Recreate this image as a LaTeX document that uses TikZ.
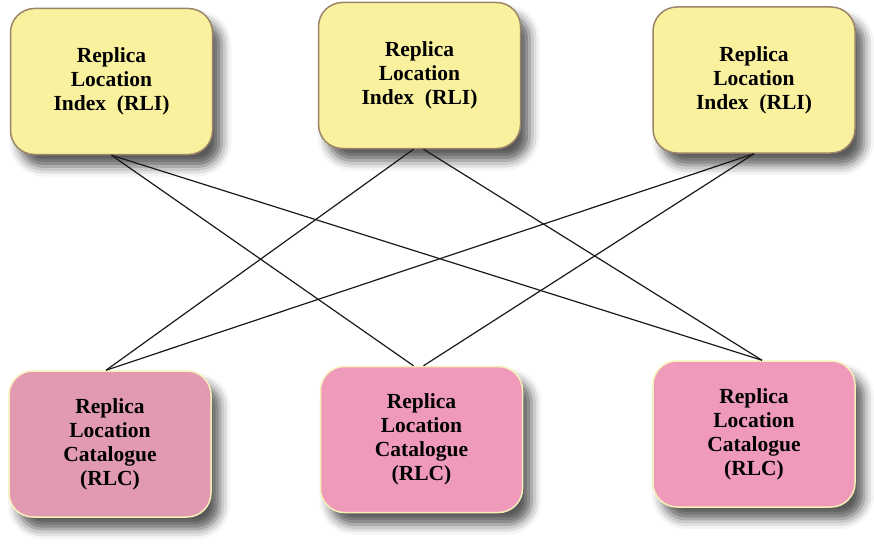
\documentclass[tikz,border=0pt]{standalone}
\usepackage{fontspec}
\setmainfont{Liberation Serif}
\usetikzlibrary{shadows.blur}
\definecolor{rliFill}{HTML}{F9F19D}
\definecolor{rliLine}{HTML}{9C8468}
\definecolor{rlcFillA}{HTML}{E29AB3}
\definecolor{rlcFillB}{HTML}{F09ABB}
\definecolor{rlcLine}{HTML}{F6F0B8}
\tikzset{
  box/.style={rounded corners=24pt, minimum width=202pt, minimum height=146pt,
    align=center, line width=1.5pt, inner sep=0pt,
    font=\fontsize{21.5}{24}\selectfont\bfseries,
    blur shadow={shadow xshift=9pt, shadow yshift=-12pt, shadow blur radius=10pt, shadow opacity=65}},
  rli/.style={box, draw=rliLine, fill=rliFill},
  rlc/.style={box, draw=rlcLine, fill=rlcFillB},
  link/.style={draw=black!90, line width=1.2pt}
}
\begin{document}
\begin{tikzpicture}[x=1pt, y=-1pt]
\useasboundingbox (0,0) rectangle (874,543);
% index services along the top
\node[rli] (rli1) at (111.5,81.5) {Replica\\Location\\Index~~(RLI)};
\node[rli] (rli2) at (419.5,75.5) {Replica\\Location\\Index~~(RLI)};
\node[rli] (rli3) at (754,80) {Replica\\Location\\Index~~(RLI)};
% catalogue services along the bottom
\node[rlc, fill=rlcFillA] (rlc1) at (110,444) {Replica\\Location\\Catalogue\\(RLC)};
\node[rlc] (rlc2) at (421.5,439.5) {Replica\\Location\\Catalogue\\(RLC)};
\node[rlc] (rlc3) at (754,434) {Replica\\Location\\Catalogue\\(RLC)};
% each index links to the two catalogues not beneath it
\draw[link] (rli1.south) -- ([xshift=-8pt]rlc2.north);
\draw[link] (rli1.south) -- ([xshift=8pt]rlc3.north);
\draw[link] ([xshift=-6pt]rli2.south) -- ([xshift=-4pt]rlc1.north);
\draw[link] ([xshift=4pt]rli2.south) -- ([xshift=8pt]rlc3.north);
\draw[link] (rli3.south) -- ([xshift=-4pt]rlc1.north);
\draw[link] (rli3.south) -- ([xshift=2pt]rlc2.north);
\end{tikzpicture}
\end{document}
